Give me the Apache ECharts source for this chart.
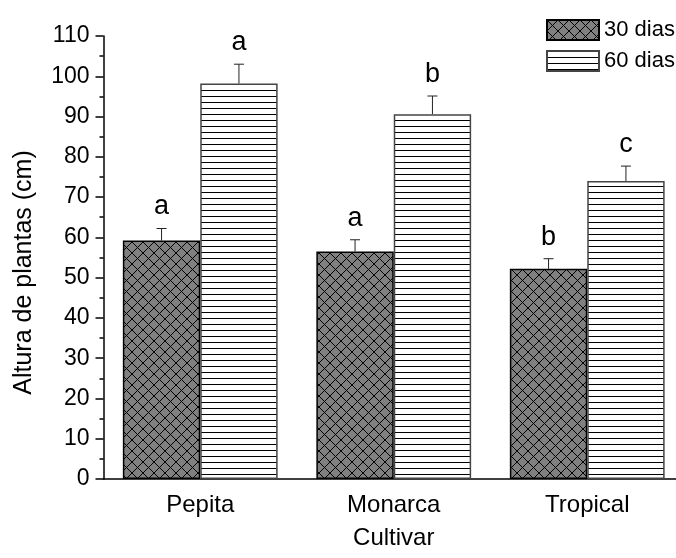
<!DOCTYPE html>
<html>
<head>
<meta charset="utf-8">
<script src="https://cdn.jsdelivr.net/npm/echarts@6/dist/echarts.min.js"></script>
<style>html,body{margin:0;padding:0;background:#fff;overflow:hidden;}#c{width:684px;height:558px;}</style>
</head>
<body>
<div id="c"></div>
<script>
var categories = ['Pepita', 'Monarca', 'Tropical'];
var dias30 = [59.2, 56.5, 52.2];
var dias60 = [98.2, 90.6, 74.0];
var err30 = [3.0, 2.9, 2.5];
var err60 = [4.8, 4.5, 3.7];
var letters30 = ['a', 'a', 'b'];
var letters60 = ['a', 'b', 'c'];
var yTicks = {min: 0, max: 110, interval: 10};

var FONT = 'Liberation Sans, Arial, sans-serif';

function crossPattern() {
  var s = 11;
  var c = document.createElement('canvas');
  c.width = s; c.height = s;
  var g = c.getContext('2d');
  g.fillStyle = '#808080';
  g.fillRect(0, 0, s, s);
  g.strokeStyle = '#000';
  g.lineWidth = 1;
  g.beginPath();
  g.moveTo(0, 0); g.lineTo(s, s);
  g.moveTo(s, 0); g.lineTo(0, s);
  g.stroke();
  return c;
}
function hPattern() {
  var c = document.createElement('canvas');
  c.width = 8; c.height = 6;
  var g = c.getContext('2d');
  g.fillStyle = '#fff';
  g.fillRect(0, 0, 8, 6);
  g.fillStyle = '#000';
  g.fillRect(0, 0, 8, 1);
  return c;
}

var pat30 = {image: crossPattern(), repeat: 'repeat'};
var pat60 = {image: hPattern(), repeat: 'repeat'};

function errData(vals, errs, side) {
  return vals.map(function (v, i) { return [i, v, errs[i], side]; });
}

function renderErr(params, api) {
  var idx = api.value(0);
  var v = api.value(1);
  var e = api.value(2);
  var side = api.value(3);
  var band = api.size([1, 0])[0];
  var base = api.coord([idx, v]);
  var top = api.coord([idx, v + e]);
  var x = base[0] + side * 0.2 * band;
  var letter = (side > 0 ? letters60 : letters30)[params.dataIndex];
  return {
    type: 'group',
    children: [
      {type: 'line', shape: {x1: x, y1: base[1], x2: x, y2: top[1]}, style: {stroke: '#222', lineWidth: 1}},
      {type: 'line', shape: {x1: x - 5, y1: top[1], x2: x + 5, y2: top[1]}, style: {stroke: '#222', lineWidth: 1}},
      {type: 'text', x: x, y: top[1] - 8, style: {text: letter, fill: '#000', font: '27px ' + FONT, align: 'center', verticalAlign: 'bottom'}}
    ]
  };
}

var chart = echarts.init(document.getElementById('c'), null, {renderer: 'canvas'});
chart.setOption({
  animation: false,
  backgroundColor: '#fff',
  textStyle: {fontFamily: FONT, color: '#000'},
  grid: {left: 103.5, top: 36, bottom: 79, right: 0, containLabel: false},
  legend: {
    orient: 'vertical', left: 541, top: 14,
    icon: 'rect',
    itemWidth: 52, itemHeight: 20, itemGap: 9,
    textStyle: {fontSize: 22, lineHeight: 20, color: '#000', fontFamily: FONT},
    data: ['30 dias', '60 dias']
  },
  xAxis: [{
    type: 'category', data: categories, position: 'bottom',
    name: 'Cultivar', nameLocation: 'middle', nameGap: 47,
    nameTextStyle: {fontSize: 24, color: '#000', fontFamily: FONT},
    axisLine: {lineStyle: {color: '#000', width: 1.5}},
    axisTick: {alignWithLabel: true, length: 9, lineStyle: {color: '#000', width: 1.5}},
    axisLabel: {fontSize: 24, color: '#000', margin: 14, fontFamily: FONT},
    splitLine: {show: false}
  }, {
    type: 'category', data: categories, position: 'bottom',
    axisLine: {show: false},
    axisTick: {length: 5, lineStyle: {color: '#000', width: 1.5}},
    axisLabel: {show: false},
    splitLine: {show: false}
  }],
  yAxis: {
    type: 'value', min: yTicks.min, max: yTicks.max, interval: yTicks.interval,
    name: 'Altura de plantas (cm)', nameLocation: 'middle', nameGap: 67,
    nameTextStyle: {fontSize: 25, color: '#000', fontFamily: FONT, padding: [0, 30, 0, 0]},
    axisLine: {show: true, lineStyle: {color: '#000', width: 1.5}},
    axisTick: {show: true, length: 8, lineStyle: {color: '#000', width: 1.5}},
    minorTick: {show: true, splitNumber: 2, length: 4, lineStyle: {color: '#000', width: 1.5}},
    axisLabel: {fontSize: 23, color: '#000', margin: 14, fontFamily: FONT},
    splitLine: {show: false}
  },
  series: [{
    name: '30 dias', type: 'bar', data: dias30, barGap: '0%', barCategoryGap: '20%',
    itemStyle: {color: pat30, borderColor: '#000', borderWidth: 1.5}
  }, {
    name: '60 dias', type: 'bar', data: dias60, barGap: '0%', barCategoryGap: '20%',
    itemStyle: {color: pat60, borderColor: '#444', borderWidth: 1.5}
  }, {
    type: 'custom', renderItem: renderErr, data: errData(dias30, err30, -1), z: 5,
    encode: {x: 0, y: 1}
  }, {
    type: 'custom', renderItem: renderErr, data: errData(dias60, err60, 1), z: 5,
    encode: {x: 0, y: 1}
  }]
});
</script>
</body>
</html>
